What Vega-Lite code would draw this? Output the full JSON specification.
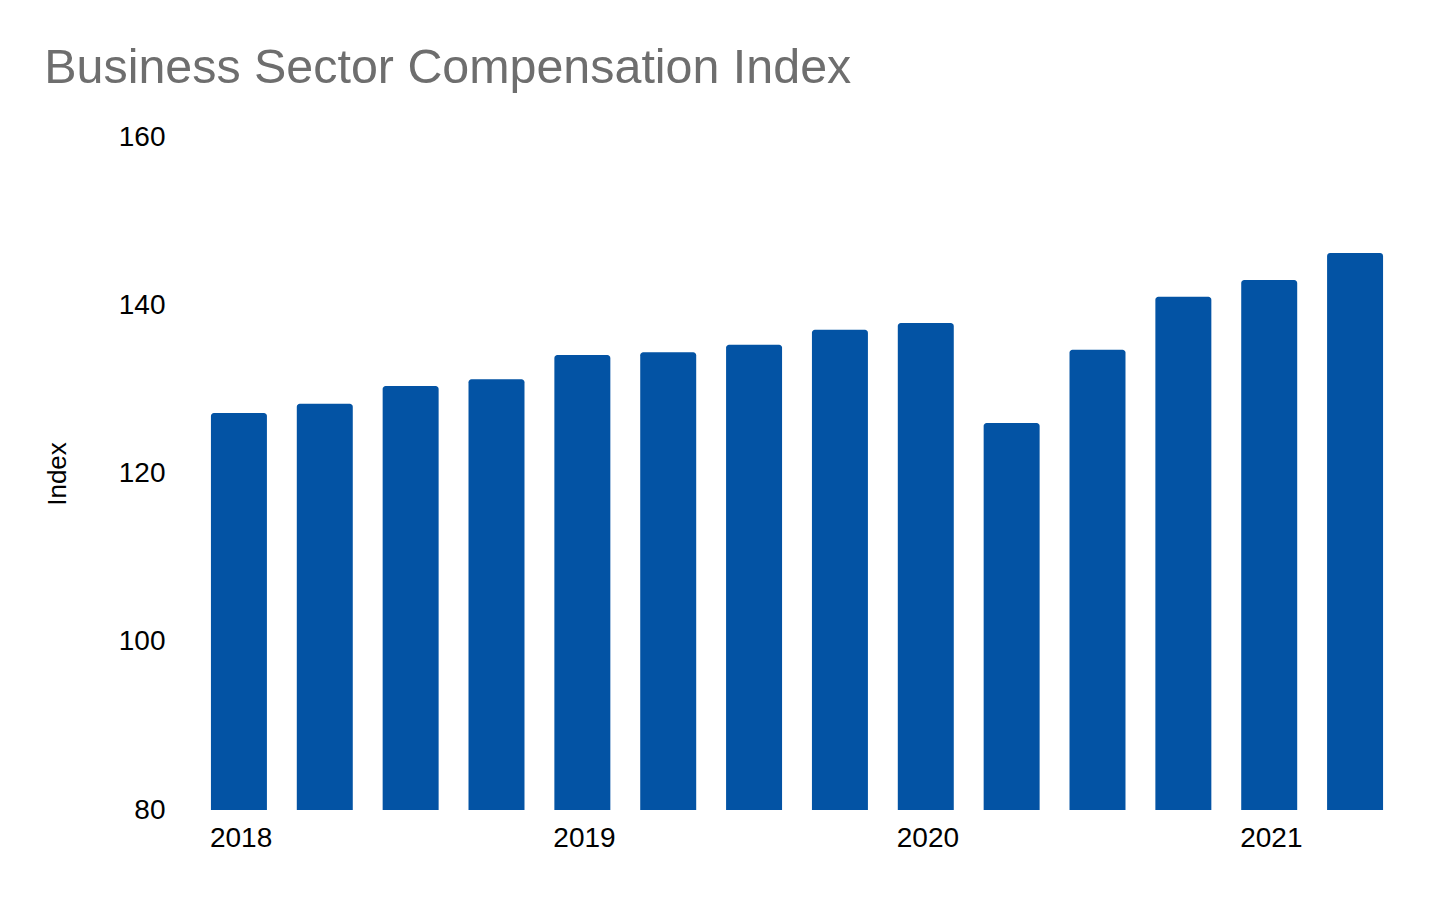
{
  "$schema": "https://vega.github.io/schema/vega-lite/v6.json",
  "width": 1202,
  "height": 673,
  "padding": {"left": 44, "top": 43, "right": 10, "bottom": 10},
  "background": "white",
  "title": {
    "text": "Business Sector Compensation Index",
    "anchor": "start",
    "frame": "bounds",
    "font": "Liberation Sans",
    "fontSize": 48.4,
    "fontWeight": "normal",
    "color": "#6e6e6e",
    "offset": 30
  },
  "data": {
    "values": [
      {"date": "2018-01-01", "index": 127.2},
      {"date": "2018-04-01", "index": 128.3},
      {"date": "2018-07-01", "index": 130.4},
      {"date": "2018-10-01", "index": 131.2},
      {"date": "2019-01-01", "index": 134.1},
      {"date": "2019-04-01", "index": 134.4},
      {"date": "2019-07-01", "index": 135.3},
      {"date": "2019-10-01", "index": 137.1},
      {"date": "2020-01-01", "index": 137.9},
      {"date": "2020-04-01", "index": 126.0},
      {"date": "2020-07-01", "index": 134.7},
      {"date": "2020-10-01", "index": 141.0},
      {"date": "2021-01-01", "index": 143.0},
      {"date": "2021-04-01", "index": 146.2}
    ]
  },
  "mark": {"type": "bar", "color": "#0353a4", "cornerRadiusTopLeft": 3, "cornerRadiusTopRight": 3},
  "encoding": {
    "x": {
      "field": "date",
      "timeUnit": "yearquarter",
      "type": "ordinal",
      "scale": {"paddingInner": 0.348, "paddingOuter": 0.174},
      "axis": {
        "title": null,
        "labelAlign": "left",
        "labelAngle": 0,
        "labelOffset": -29,
        "labelExpr": "month(datum.value) == 0 ? timeFormat(datum.value, '%Y') : ''",
        "labelPadding": 14
      }
    },
    "y": {
      "field": "index",
      "type": "quantitative",
      "scale": {"domain": [80, 160], "zero": false, "nice": false},
      "axis": {
        "title": "Index",
        "values": [80, 100, 120, 140, 160],
        "labelPadding": 31,
        "titlePadding": 48,
        "titleFontSize": 26
      }
    },
    "y2": {"datum": 80}
  },
  "config": {
    "view": {"stroke": null},
    "axis": {
      "grid": false,
      "domain": false,
      "ticks": false,
      "labelFont": "Liberation Sans",
      "labelFontSize": 28,
      "labelColor": "#000000",
      "titleFont": "Liberation Sans",
      "titleFontSize": 28,
      "titleFontWeight": "normal",
      "titleColor": "#000000",
      "labelOverlap": false
    }
  }
}
